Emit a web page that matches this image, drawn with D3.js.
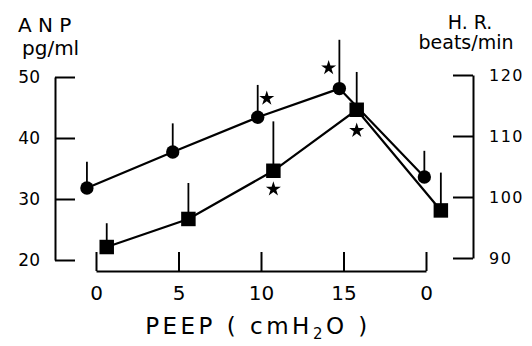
<!DOCTYPE html>
<html>
<head>
<meta charset="utf-8">
<script src="https://cdn.jsdelivr.net/npm/d3@7"></script>
<style>
  body { margin: 0; background: #fff; }
  text { font-family: 'DejaVu Sans', sans-serif; fill: #000; }
</style>
</head>
<body>
<div id="chart"></div>
<script>
// PEEP steps (last one is back to 0)
var peepLabels = ['0', '5', '10', '15', '0'];

// ANP (pg/ml), circles, left axis
var anpX = [-0.11, 0.93, 1.96, 2.95, 3.98];
var anpMean = [31.8, 37.7, 43.4, 48.1, 33.6];
var anpErr = [4.3, 4.7, 5.3, 8.0, 4.3];

// heart rate (beats/min), squares, right axis
var hrX = [0.13, 1.12, 2.15, 3.16, 4.18];
var hrMean = [91.8, 96.4, 104.3, 114.3, 97.8];
var hrErr = [3.9, 5.9, 8.1, 6.2, 6.2];

var leftTicks = [20, 30, 40, 50];
var rightTicks = [90, 100, 110, 120];

// significance stars: x in step units, value on the given axis
var stars = [
  { axis: 'left', x: 2.07, v: 46.5 },
  { axis: 'right', x: 2.15, v: 101.3 },
  { axis: 'left', x: 2.82, v: 51.5 },
  { axis: 'right', x: 3.16, v: 110.9 }
];

var width = 532, height = 346;

var svg = d3.select('#chart')
  .append('svg')
  .attr('width', width)
  .attr('height', height);

var x = d3.scaleLinear().domain([0, 4]).range([96, 426]);
var yL = d3.scaleLinear().domain([20, 50]).range([260, 77]);
var yR = d3.scaleLinear().domain([90, 120]).range([258, 75]);

// left axis (ticks point inward)
svg.append('g')
  .attr('transform', 'translate(55,0)')
  .call(d3.axisLeft(yL).tickValues(leftTicks).tickSizeInner(-20).tickSizeOuter(0).tickPadding(15))
  .call(function (g) {
    g.selectAll('path, line').attr('stroke', '#000').attr('stroke-width', 2);
    g.selectAll('text').style('font-size', '17px').attr('font-family', null);
  });

// right axis
svg.append('g')
  .attr('transform', 'translate(473,0)')
  .call(d3.axisRight(yR).tickValues(rightTicks).tickSizeInner(-20).tickSizeOuter(0).tickPadding(16))
  .call(function (g) {
    g.selectAll('path, line').attr('stroke', '#000').attr('stroke-width', 2);
    g.selectAll('text').style('font-size', '16px').style('letter-spacing', '1.5px').attr('font-family', null);
  });

// x axis
svg.append('g')
  .attr('transform', 'translate(0,271)')
  .call(d3.axisBottom(x).tickValues([0, 1, 2, 3, 4])
    .tickFormat(function (d) { return peepLabels[d]; })
    .tickSizeInner(-19).tickSizeOuter(0).tickPadding(15))
  .call(function (g) {
    g.selectAll('path, line').attr('stroke', '#000').attr('stroke-width', 2);
    g.selectAll('text').style('font-size', '20px').attr('font-family', null);
  });

var anp = anpMean.map(function (m, i) { return { x: anpX[i], m: m, e: anpErr[i] }; });
var hr = hrMean.map(function (m, i) { return { x: hrX[i], m: m, e: hrErr[i] }; });

function drawSeries(data, y, shape) {
  var line = d3.line()
    .x(function (d) { return x(d.x); })
    .y(function (d) { return y(d.m); });

  svg.append('path')
    .datum(data)
    .attr('d', line)
    .attr('fill', 'none')
    .attr('stroke', '#000')
    .attr('stroke-width', 2.2);

  // error bars, upper half only
  svg.selectAll(null)
    .data(data)
    .join('line')
    .attr('x1', function (d) { return x(d.x); })
    .attr('x2', function (d) { return x(d.x); })
    .attr('y1', function (d) { return y(d.m); })
    .attr('y2', function (d) { return y(d.m + d.e); })
    .attr('stroke', '#000')
    .attr('stroke-width', 1.8);

  svg.selectAll(null)
    .data(data)
    .join('path')
    .attr('transform', function (d) { return 'translate(' + x(d.x) + ',' + y(d.m) + ')'; })
    .attr('d', d3.symbol().type(shape).size(shape === d3.symbolCircle ? 140 : 210))
    .attr('fill', '#000');
}

drawSeries(anp, yL, d3.symbolCircle);
drawSeries(hr, yR, d3.symbolSquare);

// stars
svg.selectAll('.star')
  .data(stars)
  .join('path')
  .attr('class', 'star')
  .attr('transform', function (d) {
    var y = d.axis === 'left' ? yL : yR;
    return 'translate(' + x(d.x) + ',' + y(d.v) + ')';
  })
  .attr('d', d3.symbol().type(d3.symbolStar).size(70))
  .attr('fill', '#000');

// axis titles
svg.append('text').attr('x', 18).attr('y', 32).style('font-size', '20px').text('A N P');
svg.append('text').attr('x', 22).attr('y', 55).style('font-size', '20px').text('pg/ml');
svg.append('text').attr('x', 470).attr('y', 29).attr('text-anchor', 'middle').style('font-size', '19px').text('H. R.');
svg.append('text').attr('x', 466).attr('y', 49).attr('text-anchor', 'middle').style('font-size', '19px').text('beats/min');

var xt = svg.append('text')
  .attr('x', 258)
  .attr('y', 334)
  .attr('text-anchor', 'middle')
  .style('font-size', '23px')
  .style('letter-spacing', '3.5px');
xt.append('tspan').text('PEEP ( cmH');
xt.append('tspan').attr('dy', 5).style('font-size', '15px').text('2');
xt.append('tspan').attr('dy', -5).text('O )');
</script>
</body>
</html>
